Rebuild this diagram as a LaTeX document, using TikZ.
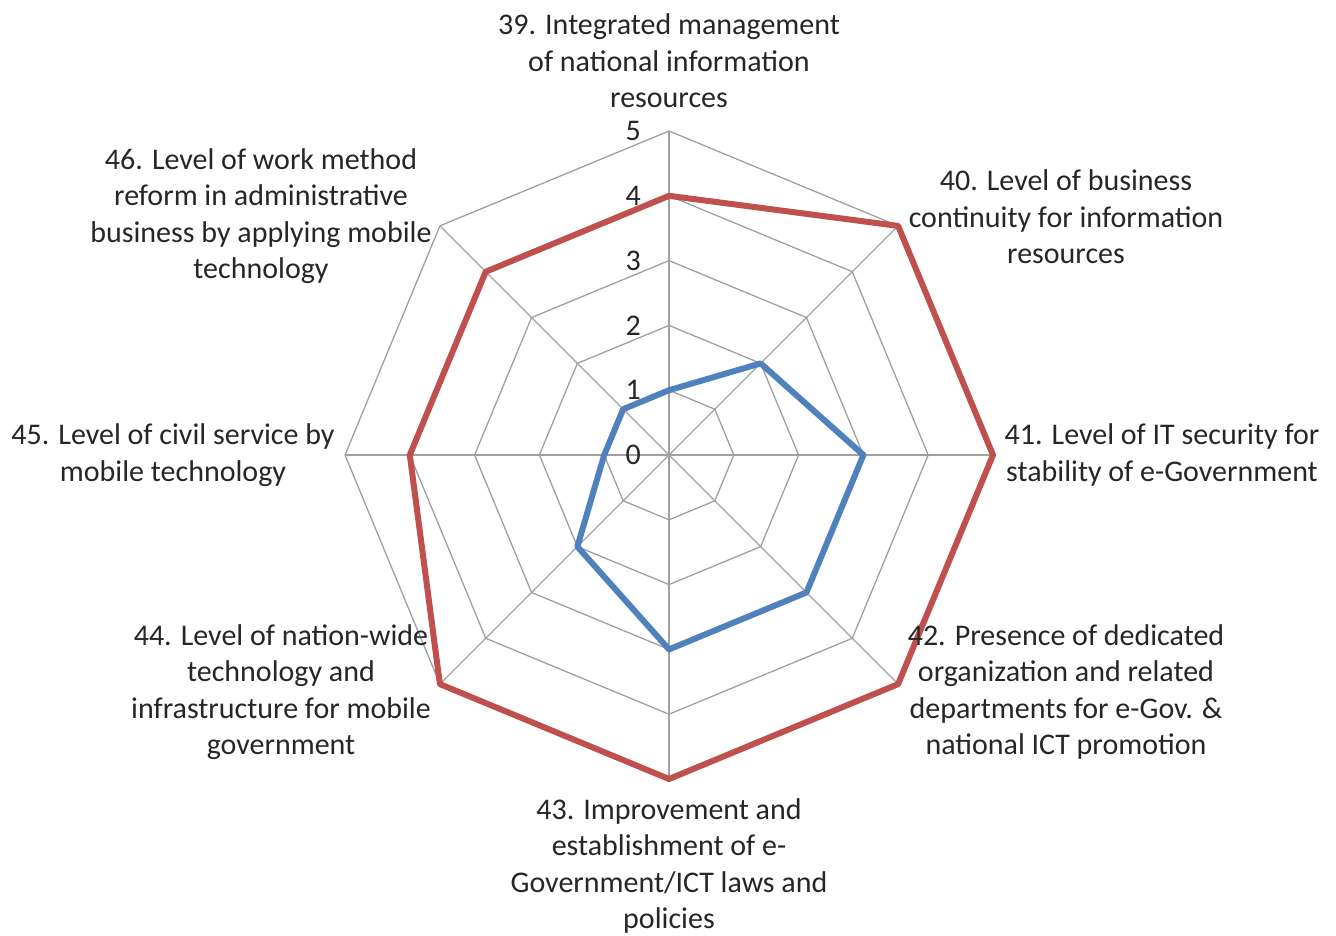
\documentclass[tikz,border=0pt]{standalone}
\usepackage{fontspec}
\setmainfont{Carlito}
\definecolor{redS}{HTML}{C0504D}
\definecolor{blueS}{HTML}{4F81BD}
\definecolor{gridc}{HTML}{A0A0A0}
\begin{document}
\begin{tikzpicture}[x=1pt,y=1pt,
  lbl/.style={align=center,font=\fontsize{30}{36.5}\selectfont,inner sep=0pt,text=black!85},
  ticklbl/.style={anchor=east,font=\fontsize{30}{32}\selectfont,inner sep=0pt,text=black!85},
  gridline/.style={draw=gridc,line width=1.3pt},
  serie/.style={line width=6pt,line join=round}]
\useasboundingbox (0,0) rectangle (1336,-935);
\coordinate (O) at (669,-455);
\begin{scope}[shift={(O)}]
  % grid rings
  \foreach \k in {1,...,5}{
    \draw[gridline] (90:\k*64.8) \foreach \i in {1,...,7}{ -- ({90-45*\i}:\k*64.8) } -- cycle;
  }
  % spokes
  \foreach \i in {0,...,7}{
    \coordinate (a\i) at ({90-45*\i}:324);
    \draw[gridline] (O) -- (a\i);
  }
  % tick labels
  \foreach \k in {0,...,5}{
    \node[ticklbl] (t\k) at (-28,\k*64.8) {\k};
  }
  % red series
  \draw[serie,redS] (90:4*64.8) -- (45:5*64.8) -- (0:5*64.8) -- (-45:5*64.8) -- (-90:5*64.8) -- (-135:5*64.8) -- (180:4*64.8) -- (135:4*64.8) -- cycle;
  % blue series
  \draw[serie,blueS] (90:1*64.8) -- (45:2*64.8) -- (0:3*64.8) -- (-45:3*64.8) -- (-90:3*64.8) -- (-135:2*64.8) -- (180:1*64.8) -- (135:1*64.8) -- cycle;
\end{scope}
% category labels
\node[lbl] (l39) at (669,-61) {39. Integrated management\\of national information\\resources};
\node[lbl] (l40) at (1066,-217) {40. Level of business\\continuity for information\\resources};
\node[lbl] (l41) at (1162,-455) {41. Level of IT security for\\stability of e-Government};
\node[lbl] (l42) at (1066,-692) {42. Presence of dedicated\\organization and related\\departments for e-Gov. \&\\national ICT promotion};
\node[lbl] (l43) at (669,-866) {43. Improvement and\\establishment of e-\\Government/ICT laws and\\policies};
\node[lbl] (l44) at (281,-692) {44. Level of nation-wide\\technology and\\infrastructure for mobile\\government};
\node[lbl] (l45) at (173,-455) {45. Level of civil service by\\mobile technology};
\node[lbl] (l46) at (261,-216) {46. Level of work method\\reform in administrative\\business by applying mobile\\technology};
\end{tikzpicture}
\end{document}
